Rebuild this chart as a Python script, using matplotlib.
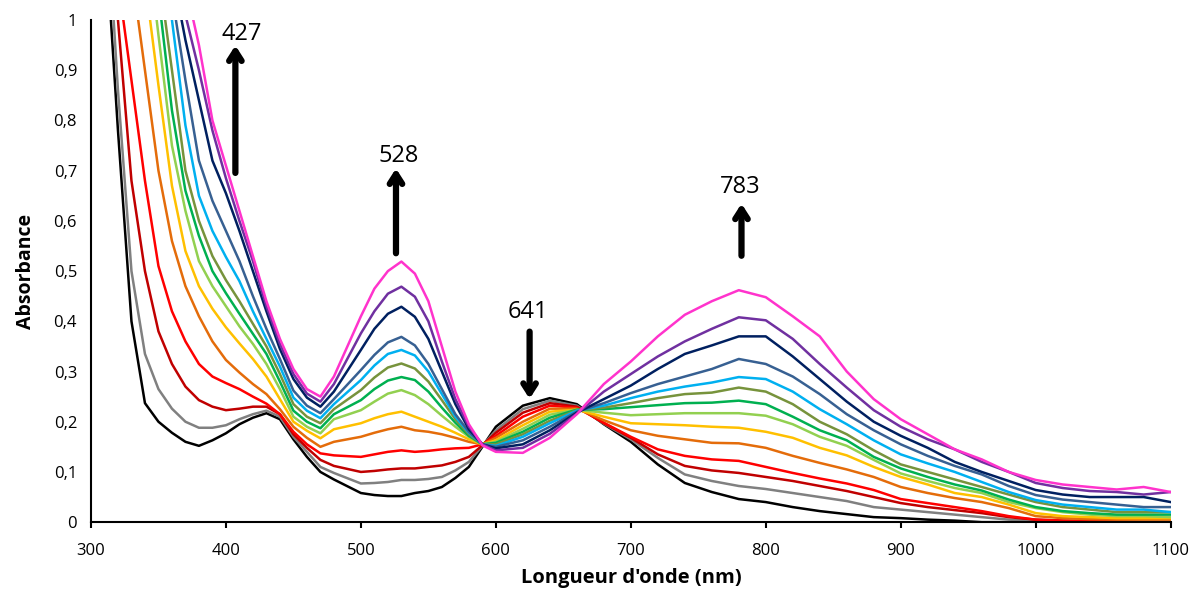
import numpy as np
import matplotlib
matplotlib.use('Agg')
import matplotlib.pyplot as plt
from matplotlib.ticker import FuncFormatter, MultipleLocator

plt.rcParams['font.family'] = ['Open Sans', 'DejaVu Sans']

# longueurs d'onde (nm) communes a toutes les courbes
wl = [310, 320, 330, 340, 350, 360, 370, 380, 390, 400, 410, 420, 430, 440, 450, 460, 470,
      480, 500, 510, 520, 530, 540, 550, 560, 570, 580, 590, 600,
      620, 640, 660, 680, 700, 720, 740, 760, 780, 800, 820, 840, 860, 880, 900,
      920, 940, 960, 980, 1000, 1020, 1040, 1060, 1080, 1100]

# absorbances (une liste par spectre)
a_black = [1.2, 0.78, 0.40, 0.237, 0.20, 0.178, 0.16, 0.152, 0.163, 0.177, 0.195, 0.208, 0.217, 0.205, 0.165, 0.13, 0.1,
           0.085, 0.058, 0.054, 0.052, 0.052, 0.058, 0.062, 0.07, 0.088, 0.11, 0.15, 0.19,
           0.232, 0.247, 0.235, 0.195, 0.16, 0.115, 0.078, 0.06, 0.046, 0.04, 0.03, 0.022, 0.016, 0.01, 0.008,
           0.005, 0.003, 0.0, 0.0, 0.0, 0.0, 0.0, 0.0, 0.0, 0.0]
a_gray = [1.3, 0.86, 0.5, 0.335, 0.265, 0.226, 0.2, 0.188, 0.188, 0.193, 0.205, 0.215, 0.222, 0.21, 0.17, 0.14, 0.11,
          0.098, 0.077, 0.078, 0.08, 0.084, 0.084, 0.086, 0.09, 0.103, 0.12, 0.152, 0.183,
          0.225, 0.242, 0.232, 0.196, 0.165, 0.128, 0.095, 0.082, 0.072, 0.066, 0.058, 0.05, 0.042, 0.03, 0.025,
          0.02, 0.015, 0.01, 0.005, 0.003, 0.002, 0.0, 0.0, 0.0, 0.0]
a_darkred = [1.4, 1.0, 0.68, 0.5, 0.38, 0.315, 0.27, 0.243, 0.23, 0.223, 0.226, 0.23, 0.23, 0.215, 0.175, 0.148, 0.124,
             0.112, 0.1, 0.102, 0.105, 0.107, 0.107, 0.11, 0.113, 0.12, 0.13, 0.153, 0.178,
             0.218, 0.237, 0.23, 0.197, 0.168, 0.135, 0.112, 0.103, 0.098, 0.09, 0.082, 0.072, 0.062, 0.05, 0.038,
             0.03, 0.024, 0.018, 0.01, 0.005, 0.003, 0.002, 0.0, 0.0, 0.0]
a_red = [1.5, 1.08, 0.88, 0.68, 0.51, 0.42, 0.36, 0.315, 0.29, 0.277, 0.265, 0.25, 0.236, 0.215, 0.18, 0.155, 0.137,
         0.133, 0.13, 0.135, 0.14, 0.143, 0.14, 0.142, 0.145, 0.147, 0.148, 0.155, 0.172,
         0.21, 0.232, 0.228, 0.198, 0.17, 0.145, 0.132, 0.125, 0.122, 0.11, 0.098, 0.087, 0.077, 0.064, 0.046,
         0.038, 0.03, 0.022, 0.012, 0.005, 0.003, 0.002, 0.002, 0.0, 0.0]
a_orange = [1.8, 1.3, 1.1, 0.9, 0.7, 0.56, 0.47, 0.41, 0.36, 0.323, 0.298, 0.275, 0.255, 0.225, 0.19, 0.168, 0.15,
            0.16, 0.17, 0.178, 0.185, 0.19, 0.183, 0.18, 0.175, 0.168, 0.16, 0.155, 0.168,
            0.2, 0.226, 0.226, 0.203, 0.183, 0.172, 0.165, 0.158, 0.157, 0.148, 0.132, 0.118, 0.105, 0.09, 0.07,
            0.058, 0.048, 0.04, 0.028, 0.012, 0.008, 0.006, 0.005, 0.005, 0.005]
a_gold = [2.0, 1.6, 1.3, 1.08, 0.87, 0.67, 0.54, 0.47, 0.425, 0.388, 0.356, 0.325, 0.29, 0.245, 0.2, 0.182, 0.167,
          0.185, 0.197, 0.207, 0.215, 0.22, 0.21, 0.2, 0.19, 0.178, 0.165, 0.155, 0.163,
          0.193, 0.22, 0.224, 0.21, 0.197, 0.195, 0.193, 0.19, 0.188, 0.18, 0.168, 0.148, 0.133, 0.11, 0.09,
          0.075, 0.058, 0.05, 0.035, 0.018, 0.012, 0.01, 0.008, 0.008, 0.008]
a_lgreen = [2.1, 1.7, 1.4, 1.2, 0.97, 0.75, 0.62, 0.52, 0.47, 0.43, 0.39, 0.355, 0.315, 0.265, 0.21, 0.19, 0.177,
            0.205, 0.223, 0.24, 0.256, 0.263, 0.253, 0.235, 0.212, 0.19, 0.17, 0.155, 0.16,
            0.186, 0.214, 0.224, 0.218, 0.213, 0.215, 0.217, 0.217, 0.217, 0.212, 0.195, 0.17, 0.152, 0.124, 0.097,
            0.082, 0.068, 0.058, 0.04, 0.028, 0.02, 0.015, 0.012, 0.012, 0.01]
a_green = [2.2, 1.8, 1.5, 1.3, 1.05, 0.82, 0.66, 0.57, 0.5, 0.456, 0.415, 0.375, 0.335, 0.28, 0.222, 0.2, 0.187,
           0.215, 0.243, 0.265, 0.282, 0.289, 0.283, 0.26, 0.228, 0.198, 0.172, 0.155, 0.158,
           0.18, 0.208, 0.224, 0.225, 0.229, 0.233, 0.237, 0.238, 0.242, 0.235, 0.21, 0.183, 0.163, 0.13, 0.107,
           0.09, 0.075, 0.063, 0.045, 0.03, 0.022, 0.018, 0.015, 0.015, 0.015]
a_olive = [2.3, 1.9, 1.6, 1.35, 1.1, 0.9, 0.7, 0.6, 0.53, 0.482, 0.44, 0.395, 0.35, 0.295, 0.235, 0.21, 0.197,
           0.225, 0.263, 0.288, 0.308, 0.316, 0.306, 0.28, 0.243, 0.205, 0.175, 0.155, 0.155,
           0.175, 0.202, 0.223, 0.228, 0.237, 0.247, 0.255, 0.258, 0.268, 0.26, 0.235, 0.2, 0.175, 0.143, 0.115,
           0.1, 0.085, 0.07, 0.055, 0.04, 0.03, 0.025, 0.02, 0.02, 0.02]
a_lblue = [2.4, 2.0, 1.7, 1.45, 1.2, 1.0, 0.79, 0.65, 0.58, 0.528, 0.48, 0.42, 0.365, 0.31, 0.248, 0.222, 0.207,
           0.235, 0.283, 0.312, 0.335, 0.343, 0.332, 0.3, 0.255, 0.21, 0.178, 0.155, 0.152,
           0.17, 0.197, 0.222, 0.232, 0.247, 0.26, 0.27, 0.278, 0.289, 0.285, 0.26, 0.225, 0.195, 0.163, 0.135,
           0.117, 0.1, 0.08, 0.06, 0.044, 0.035, 0.03, 0.025, 0.025, 0.02]
a_sblue = [2.5, 2.1, 1.8, 1.5, 1.25, 1.05, 0.88, 0.72, 0.64, 0.58, 0.52, 0.45, 0.385, 0.325, 0.262, 0.232, 0.217,
           0.245, 0.303, 0.333, 0.358, 0.369, 0.352, 0.315, 0.265, 0.215, 0.18, 0.155, 0.15,
           0.163, 0.19, 0.22, 0.237, 0.257, 0.275, 0.29, 0.305, 0.325, 0.315, 0.29, 0.255, 0.215, 0.183, 0.155,
           0.132, 0.112, 0.095, 0.072, 0.054, 0.045, 0.04, 0.035, 0.03, 0.03]
a_navy = [2.7, 2.3, 1.9, 1.6, 1.35, 1.1, 0.96, 0.84, 0.72, 0.655, 0.58, 0.5, 0.42, 0.345, 0.285, 0.248, 0.23,
          0.26, 0.343, 0.385, 0.415, 0.429, 0.409, 0.365, 0.3, 0.235, 0.185, 0.155, 0.147,
          0.155, 0.183, 0.218, 0.245, 0.272, 0.305, 0.335, 0.352, 0.37, 0.37, 0.33, 0.285, 0.24, 0.2, 0.172,
          0.148, 0.12, 0.1, 0.082, 0.064, 0.055, 0.05, 0.05, 0.05, 0.04]
a_purple = [2.8, 2.4, 2.0, 1.7, 1.4, 1.15, 1.01, 0.9, 0.78, 0.685, 0.6, 0.52, 0.43, 0.355, 0.295, 0.256, 0.24,
            0.275, 0.376, 0.42, 0.455, 0.469, 0.449, 0.4, 0.32, 0.245, 0.19, 0.155, 0.143,
            0.148, 0.176, 0.216, 0.26, 0.295, 0.33, 0.36, 0.385, 0.408, 0.402, 0.365, 0.315, 0.268, 0.223, 0.19,
            0.165, 0.145, 0.12, 0.1, 0.078, 0.068, 0.062, 0.06, 0.055, 0.06]
a_magenta = [2.9, 2.5, 2.1, 1.8, 1.5, 1.2, 1.07, 0.95, 0.8, 0.71, 0.62, 0.53, 0.44, 0.365, 0.305, 0.265, 0.25,
             0.29, 0.41, 0.465, 0.5, 0.519, 0.495, 0.44, 0.35, 0.26, 0.195, 0.153, 0.14,
             0.138, 0.168, 0.215, 0.275, 0.32, 0.37, 0.413, 0.44, 0.462, 0.448, 0.41, 0.37, 0.3, 0.245, 0.205,
             0.175, 0.145, 0.125, 0.1, 0.084, 0.075, 0.07, 0.065, 0.07, 0.06]

spectres = [a_black, a_gray, a_darkred, a_red, a_orange, a_gold, a_lgreen, a_green,
            a_olive, a_lblue, a_sblue, a_navy, a_purple, a_magenta]
couleurs = ['#000000', '#808080', '#C00000', '#FF0000', '#E46C0A', '#FFC000', '#92D050', '#00B050',
            '#77933C', '#00B0F0', '#376092', '#002060', '#7030A0', '#FF33CC']

fig = plt.figure(figsize=(11.97, 5.90), dpi=100)
ax = fig.add_axes([0.076, 0.115, 0.902, 0.851])

for a, c in zip(spectres, couleurs):
    ax.plot(wl, a, color=c, lw=1.8)

ax.set_xlim(300, 1100)
ax.set_ylim(0, 1)
ax.xaxis.set_major_locator(MultipleLocator(100))
ax.yaxis.set_major_locator(MultipleLocator(0.1))
ax.yaxis.set_major_formatter(FuncFormatter(lambda v, p: ('%g' % round(v, 1)).replace('.', ',')))
for s in ['top', 'right']:
    ax.spines[s].set_visible(False)
for s in ['left', 'bottom']:
    ax.spines[s].set_linewidth(1.5)
ax.tick_params(axis='x', length=4, width=1.5, labelsize=12, pad=11)
ax.tick_params(axis='y', length=0, labelsize=12, pad=10)
ax.set_xlabel("Longueur d'onde (nm)", fontsize=14.5, fontweight='bold', va='center')
ax.xaxis.set_label_coords(0.5, -0.112)
ax.set_ylabel("Absorbance", fontsize=14, fontweight='bold', va='center')
ax.yaxis.set_label_coords(-0.06, 0.5)

# fleches et etiquettes des bandes
fleches = [('427', 407, 0.69, 0.955, 412, 0.972),
           ('528', 526, 0.53, 0.71, 528, 0.73),
           ('641', 625, 0.385, 0.24, 624, 0.418),
           ('783', 782, 0.525, 0.64, 781, 0.667)]
for txt, x, y0, y1, tx, ty in fleches:
    ax.annotate('', xy=(x, y1), xytext=(x, y0),
                arrowprops=dict(arrowstyle='->,head_length=0.7,head_width=0.45', lw=4.5, color='black'))
    ax.text(tx, ty, txt, fontsize=17, ha='center', va='center')

fig.savefig('out.png', dpi=100)
